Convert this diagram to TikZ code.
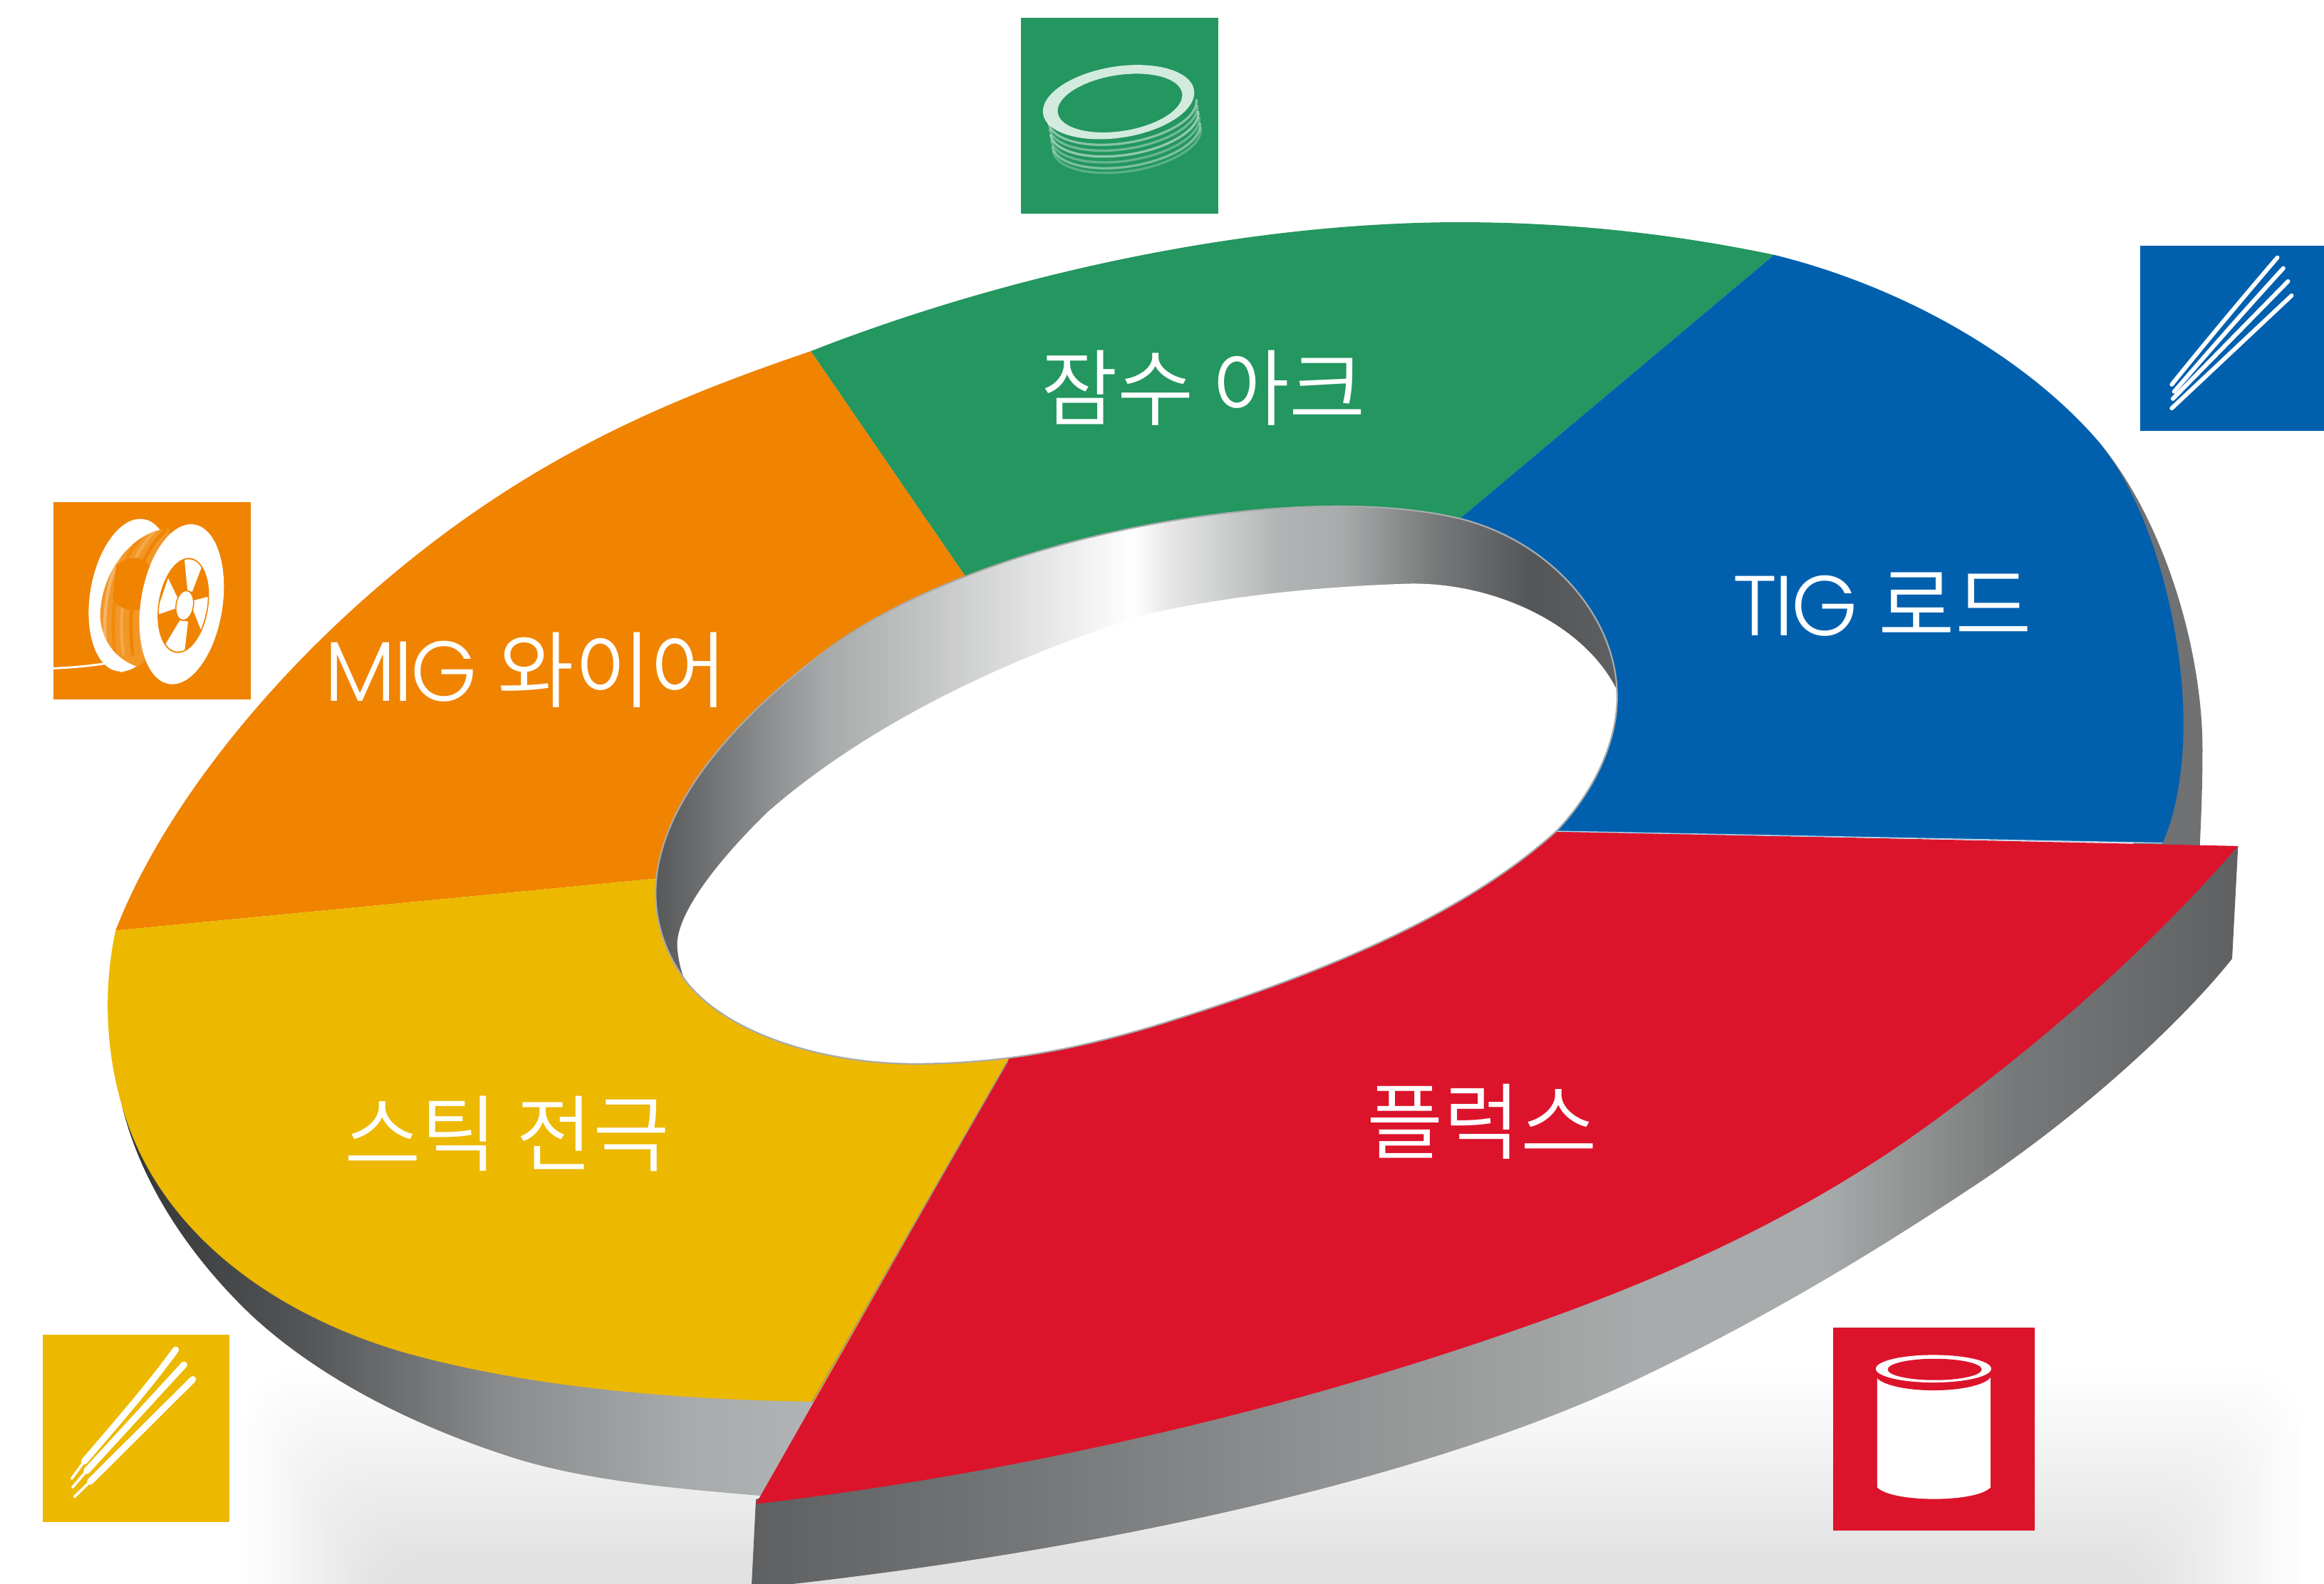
\documentclass[tikz,border=0pt]{standalone}
\usepackage{fontspec}
\IfFontExistsTF{Noto Sans CJK KR DemiLight}{\newfontfamily\kr{Noto Sans CJK KR DemiLight}}{\newfontfamily\kr{Noto Sans CJK KR}}
\IfFontExistsTF{Poppins Light}{\newfontfamily\lat[Scale=1.02,LetterSpace=-3]{Poppins Light}}{\newfontfamily\lat{Poppins}}
\definecolor{cor}{HTML}{F08300}
\definecolor{cye}{HTML}{ECB800}
\definecolor{cre}{HTML}{DC142B}
\definecolor{cgr}{HTML}{249660}
\definecolor{cbl}{HTML}{0060AE}
\definecolor{g30}{HTML}{333436}
\definecolor{g55}{HTML}{545557}
\definecolor{g60}{HTML}{5E6062}
\definecolor{g70}{HTML}{707172}
\definecolor{g77}{HTML}{777879}
\definecolor{g88}{HTML}{8A8C8D}
\definecolor{g90}{HTML}{929394}
\definecolor{gaa}{HTML}{A8ABAB}
\definecolor{gb0}{HTML}{B2B5B5}
\definecolor{gcc}{HTML}{CCCDCD}
\definecolor{ge8}{HTML}{E8E8E8}
% TikZ maps a path's box onto the middle 25bp..75bp of a shading
\pgfdeclarehorizontalshading{wallshade}{100bp}{color(0bp)=(g55); color(25bp)=(g55); color(34.25bp)=(gaa); color(40.85bp)=(gcc); color(50bp)=(white); color(51.75bp)=(ge8); color(57.4bp)=(gb0); color(60.7bp)=(gaa); color(65.6bp)=(g77); color(70.5bp)=(g55); color(75bp)=(g60); color(100bp)=(g60)}
\pgfdeclarehorizontalshading{leftshade}{100bp}{color(0bp)=(g30); color(25bp)=(g30); color(38bp)=(g55); color(52bp)=(g88); color(65bp)=(gaa); color(75bp)=(gb0); color(100bp)=(gb0)}
\pgfdeclarehorizontalshading{redshade}{100bp}{color(0bp)=(g60); color(25bp)=(g60); color(35bp)=(g77); color(45bp)=(g90); color(55bp)=(gaa); color(61bp)=(gaa); color(67.5bp)=(g77); color(75bp)=(g60); color(100bp)=(g60)}
\tikzset{
  label/.style={text=white,inner sep=0pt,font=\fontsize{32}{32}\selectfont},
  rod/.style={draw=white,line width=1.6pt,line cap=round},
  rodthick/.style={draw=white,line width=2.5pt,line cap=round},
  rodfine/.style={draw=white,line width=1.0pt,line cap=round},
}
\def\holepath{(1091,468) .. controls (1092,500) and (1075,535) .. (1050,561)
 .. controls (990,615) and (900,655) .. (780,692)
 .. controls (720,710) and (670,718) .. (617,718)
 .. controls (560,718) and (495,700) .. (465,665)
 .. controls (445,640) and (438,610) .. (445,580)
 .. controls (455,535) and (495,485) .. (560,437)
 .. controls (610,400) and (700,365) .. (800,350)
 .. controls (860,341) and (930,337) .. (985,350)
 .. controls (1045,365) and (1090,415) .. (1091,468) -- cycle}
\begin{document}
\begin{tikzpicture}[x=0.02cm,y=-0.02cm]
\useasboundingbox (0,0) rectangle (1568,1068.6);
\clip (0,0) rectangle (1568,1068.6);
% floor shadow
\foreach \i in {0,...,39}{
  \pgfmathsetmacro{\p}{0.28*(\i+1)}
  \fill[black!\p!white,rounded corners=20] (165+2.3*\i,925+3.2*\i) rectangle (1552-2.6*\i,1130);
}
% outer walls
\shade[shading=leftshade] (82,745) .. controls (95,800) and (130,850) .. (170,888) .. controls (210,925) and (270,960) .. (350,985) .. controls (400,1000) and (460,1005) .. (520,1010) -- (560,946) -- (300,800) -- cycle;
\fill[g70] (1415,297) .. controls (1460,350) and (1487,440) .. (1486,510) .. controls (1486,530) and (1485,555) .. (1484,575) -- (1440,575) -- cycle;
\shade[shading=redshade] (1510,571) -- (1506,647) .. controls (1480,680) and (1420,740) .. (1340,795) .. controls (1280,835) and (1200,886) .. (1100,933) .. controls (950,1003) and (720,1050) .. (507,1072) -- (510,1012) -- (1300,700) -- cycle;
% top faces
\fill[cgr] (547,237) .. controls (680,185) and (840,150) .. (985,150) .. controls (1060,150) and (1130,158) .. (1197,172) -- (985,350) -- (780,500) -- (652,390) -- cycle;
\fill[cbl] (1197,172) .. controls (1290,195) and (1370,245) .. (1415,297) .. controls (1455,345) and (1472,430) .. (1473,480) .. controls (1474,510) and (1470,545) .. (1459,569) -- (1050,561) -- (780,500) -- (985,350) -- cycle;
\fill[cor] (78,628) .. controls (110,545) and (190,442) .. (300,360) .. controls (385,297) and (465,265) .. (547,237) -- (652,390) -- (780,500) -- (442,593) -- cycle;
\fill[cye] (78,628) .. controls (70,665) and (70,710) .. (85,755) .. controls (110,830) and (180,885) .. (270,912) .. controls (350,935) and (450,945) .. (555,946) -- (680,716) -- (780,500) -- (442,593) -- cycle;
\fill[cre] (1510,571) .. controls (1450,640) and (1380,702) .. (1300,760) .. controls (1220,818) and (1130,860) .. (1030,895) .. controls (860,955) and (680,995) .. (510,1015) -- (680,716) -- (780,500) -- (1050,561) -- cycle;
\draw[white!70!cbl,line width=.4pt] (1050,561) -- (1459,569);
\draw[g90,line width=.4pt] (680,716) -- (548,946);
% inner wall and hole
\shade[shading=wallshade] \holepath;
\begin{scope}
  \clip \holepath;
  \fill[white] (1092,468) .. controls (1070,420) and (1005,392) .. (948,394) .. controls (890,396) and (830,402) .. (776,414) .. controls (690,440) and (590,485) .. (518,548) .. controls (480,585) and (455,620) .. (457,640) .. controls (458,650) and (460,658) .. (465,668) -- (300,900) -- (1200,900) -- cycle;
\end{scope}
\draw[gaa,line width=.6pt] \holepath;
% labels
\node[label] (lsub) at (812,262) {\kr 잠수 아크};
\node[label] (ltig) at (1270,408) {\lat TIG \kr 로드};
\node[label] (lmig) at (355,452) {\lat MIG \kr 와이어};
\node[label] (lstk) at (342,765) {\kr 스틱 전극};
\node[label] (lflx) at (1000,757) {\kr 플럭스};
% green icon
\fill[cgr] (689,12) rectangle (822,144);
\begin{scope}[shift={(673,0)},scale=.1602]
  \begin{scope}[rotate around={9:(510,430)}]
    \foreach \o/\a in {35/.45,60/.35,85/.5,110/.3,135/.4,155/.25}{
      \draw[white,opacity=\a,line width=.9pt] (205,{435+\o}) arc[start angle=180,end angle=0,x radius=315,y radius=135];
    }
    \fill[white,opacity=.8,even odd rule] (510,430) ellipse[x radius=322,y radius=150] (515,435) ellipse[x radius=265,y radius=118];
  \end{scope}
\end{scope}
% blue icon
\fill[cbl] (1444,166) rectangle (1568,291);
\begin{scope}[shift={(1432.4,153.8)},scale=.1602]
  \draw[rod] (205,660) .. controls (350,480) and (500,300) .. (650,125);
  \draw[rod] (215,690) .. controls (370,510) and (520,340) .. (675,170);
  \draw[rod] (210,720) -- (695,225);
  \draw[rod] (205,760) -- (710,285);
\end{scope}
% orange icon
\fill[cor] (36,339) rectangle (169,472);
\begin{scope}[shift={(24.03,326.9)},scale=.1602]
  \draw[white,line width=.8pt] (75,775) .. controls (150,772) and (230,765) .. (310,752);
  \fill[white] (400,467) ellipse[x radius=170,y radius=325,rotate=-10];
  \fill[white] (340,770) -- (440,760) -- (360,792) -- cycle;
  \begin{scope}
    \clip (560,185) .. controls (400,200) and (270,380) .. (272,560) .. controls (278,650) and (330,735) .. (430,768) -- (660,600) -- cycle;
    \fill[cor!85!white] (260,150) rectangle (680,800);
    \foreach \d/\c in {0/60,35/95,70/70,110/100,150/80,190/100,230/90}{
      \draw[cor!\c!white,line width=1.2pt] ({300+\d},720) .. controls ({270+\d},500) and ({320+\d},300) .. ({440+\d},190);
    }
    \fill[cor] (340,340) .. controls (410,290) and (490,300) .. (490,400) -- (480,520) .. controls (410,540) and (350,530) .. (325,480) -- cycle;
  \end{scope}
  \fill[white] (615,505) ellipse[x radius=172,y radius=340,rotate=-9];
  \fill[cor] (622,510) ellipse[x radius=105,y radius=202,rotate=-9];
  \begin{scope}
    \clip (622,510) ellipse[x radius=100,y radius=196,rotate=-9];
    \fill[white] (640,450) -- (660,452) -- (710,320) -- (625,295) -- cycle;
    \fill[white] (600,482) -- (592,522) -- (505,552) -- (558,395) -- cycle;
    \fill[white] (662,490) -- (664,532) -- (697,615) -- (740,470) -- cycle;
    \fill[white] (608,572) -- (642,578) -- (625,725) -- (540,685) -- cycle;
  \end{scope}
  \fill[cor] (628,510) ellipse[x radius=39,y radius=66,rotate=-9];
  \fill[white] (628,510) ellipse[x radius=34,y radius=60,rotate=-9];
\end{scope}
% yellow icon
\fill[cye] (29,901) rectangle (155,1027);
\begin{scope}[shift={(19.23,889.3)},scale=.1602]
  \draw[rodthick] (620,135) .. controls (500,300) and (350,470) .. (235,605);
  \draw[rodthick] (655,198) -- (245,645);
  \draw[rodthick] (692,260) -- (260,690);
  \draw[rodfine] (235,605) -- (182,678);
  \draw[rodfine] (245,645) -- (185,715);
  \draw[rodfine] (260,690) -- (193,755);
\end{scope}
% red icon
\fill[cre] (1237,896) rectangle (1373,1033);
\begin{scope}[shift={(1220.9,884.5)},scale=.1602]
  \fill[white] (285,270) -- (762,270) -- (762,745) .. controls (700,810) and (350,810) .. (285,745) -- cycle;
  \fill[cre] (522,268) ellipse[x radius=245,y radius=68];
  \fill[white] (522,245) ellipse[x radius=243,y radius=58];
  \fill[cre] (527,248) ellipse[x radius=198,y radius=45];
\end{scope}
\end{tikzpicture}
\end{document}
